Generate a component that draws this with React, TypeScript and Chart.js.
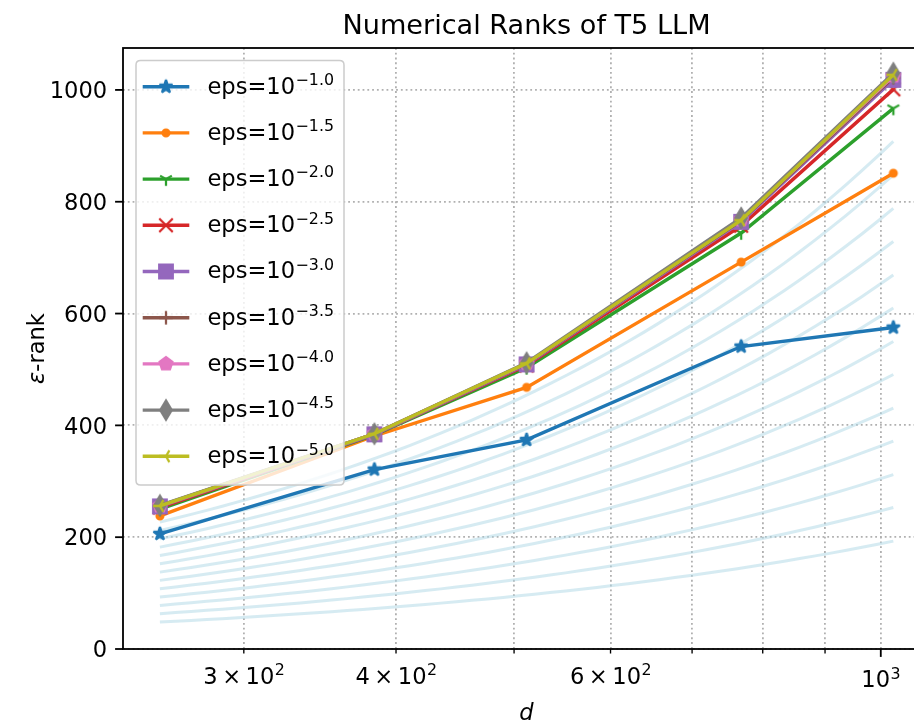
import React, { useEffect, useRef } from "react";
import { Chart, registerables } from "chart.js";

Chart.register(...registerables);

// Hidden dimension d and measured ε-rank for each tolerance
const dims = [256, 384, 512, 768, 1024];
const epsExponents = ["1.0", "1.5", "2.0", "2.5", "3.0", "3.5", "4.0", "4.5", "5.0"];
const rankEps1_0 = [206, 321, 374, 541, 575];
const rankEps1_5 = [238, 381, 468, 692, 851];
const rankEps2_0 = [250, 383, 503, 744, 967];
const rankEps2_5 = [253, 384, 507, 757, 1001];
const rankEps3_0 = [255, 384, 509, 764, 1018];
const rankEps3_5 = [256, 385, 510, 766, 1022];
const rankEps4_0 = [256, 385, 511, 768, 1025];
const rankEps4_5 = [257, 385, 512, 771, 1030];
const rankEps5_0 = [256, 385, 511, 767, 1027];
const rankSeries = [rankEps1_0, rankEps1_5, rankEps2_0, rankEps2_5, rankEps3_0, rankEps3_5, rankEps4_0, rankEps4_5, rankEps5_0];

const seriesColors = ["#1f77b4", "#ff7f0e", "#2ca02c", "#d62728", "#9467bd", "#8c564b", "#e377c2", "#7f7f7f", "#bcbd22"];
const markerKinds = ["star", "point", "tri_down", "x", "square", "plus", "pentagon", "thin_diamond", "tri_left"];

// Background reference lines rank = slope * d, each given by its rank at d = 1024
const guideAt1024 = [193, 253, 312, 372, 431, 491, 550, 610, 669, 729, 788, 848, 908];
const guideSamples = 48;

// Axis ticks
const yTickValues = [0, 200, 400, 600, 800, 1000];
const xGridValues = [300, 400, 500, 600, 700, 800, 900, 1000];
const xMajorValues = [1000];
const xLabelValues = [300, 400, 600, 1000];
const xLabelMantissa = ["3", "4", "6", ""];
const xLabelExponent = ["2", "2", "2", "3"];

const titleText = "Numerical Ranks of T5 LLM";

// Layout (pixels)
const CANVAS_W = 940;
const CANVAS_H = 725;
const VIEW_W = 914;
const PAD_TOP = 48;
const PAD_RIGHT = 10;
const Y_AXIS_W = 123;
const X_AXIS_H = 76;
const X_MIN = 238.75;
const X_MAX = 1097.5;
const Y_MIN = 0;
const Y_MAX = 1075;

const PT = 2.26;
const FS = 10 * PT;
const FONT = '"DejaVu Sans", "Liberation Sans", sans-serif';

function makeMarker(kind: string, color: string): HTMLCanvasElement {
  const size = 32;
  const c = document.createElement("canvas");
  c.width = size;
  c.height = size;
  const g = c.getContext("2d")!;
  const cx = size / 2;
  const cy = size / 2;
  const r = (6 * PT) / 2;
  g.fillStyle = color;
  g.strokeStyle = color;
  g.lineWidth = 1 * PT;
  g.lineJoin = "miter";
  g.lineCap = "butt";
  const poly = (pts: number[][]) => {
    g.beginPath();
    pts.forEach(([px, py], i) => (i === 0 ? g.moveTo(cx + px, cy + py) : g.lineTo(cx + px, cy + py)));
    g.closePath();
    g.fill();
    g.stroke();
  };
  const arms = (pts: number[][]) => {
    g.beginPath();
    pts.forEach(([px, py]) => {
      g.moveTo(cx, cy);
      g.lineTo(cx + px, cy + py);
    });
    g.stroke();
  };
  switch (kind) {
    case "star": {
      const pts: number[][] = [];
      for (let i = 0; i < 10; i++) {
        const a = -Math.PI / 2 + (i * Math.PI) / 5;
        const rr = i % 2 === 0 ? r : r * 0.381966;
        pts.push([rr * Math.cos(a), rr * Math.sin(a)]);
      }
      g.lineJoin = "bevel";
      poly(pts);
      break;
    }
    case "point": {
      g.beginPath();
      g.arc(cx, cy, r * 0.5, 0, Math.PI * 2);
      g.fill();
      g.stroke();
      break;
    }
    case "tri_down":
      arms([[0, r], [-0.866 * r, -0.5 * r], [0.866 * r, -0.5 * r]]);
      break;
    case "tri_left":
      arms([[-r, 0], [0.5 * r, -0.866 * r], [0.5 * r, 0.866 * r]]);
      break;
    case "x": {
      g.beginPath();
      g.moveTo(cx - r, cy - r);
      g.lineTo(cx + r, cy + r);
      g.moveTo(cx - r, cy + r);
      g.lineTo(cx + r, cy - r);
      g.stroke();
      break;
    }
    case "plus": {
      g.beginPath();
      g.moveTo(cx - r, cy);
      g.lineTo(cx + r, cy);
      g.moveTo(cx, cy - r);
      g.lineTo(cx, cy + r);
      g.stroke();
      break;
    }
    case "square":
      poly([[-r, -r], [r, -r], [r, r], [-r, r]]);
      break;
    case "pentagon": {
      const pts: number[][] = [];
      for (let i = 0; i < 5; i++) {
        const a = -Math.PI / 2 + (i * 2 * Math.PI) / 5;
        pts.push([r * Math.cos(a), r * Math.sin(a)]);
      }
      poly(pts);
      break;
    }
    case "thin_diamond": {
      const h = r * Math.SQRT2;
      const w = h * 0.6;
      poly([[0, -h], [w, 0], [0, h], [-w, 0]]);
      break;
    }
  }
  return c;
}

function drawPower(
  ctx: CanvasRenderingContext2D,
  x: number,
  baseline: number,
  lead: string[],
  exponent: string,
  size: number,
  align: "left" | "center"
) {
  const supSize = size * 0.7;
  const gap = size * 0.2;
  ctx.font = `${size}px ${FONT}`;
  const widths = lead.map((t) => ctx.measureText(t).width);
  const leadW = widths.reduce((a, b) => a + b, 0) + gap * Math.max(0, lead.length - 1);
  ctx.font = `${supSize}px ${FONT}`;
  const supW = ctx.measureText(exponent).width;
  let cur = align === "center" ? x - (leadW + supW) / 2 : x;
  ctx.textAlign = "left";
  ctx.textBaseline = "alphabetic";
  ctx.font = `${size}px ${FONT}`;
  lead.forEach((t, i) => {
    ctx.fillText(t, cur, baseline);
    cur += widths[i] + (i < lead.length - 1 ? gap : 0);
  });
  ctx.font = `${supSize}px ${FONT}`;
  ctx.fillText(exponent, cur + 0.5, baseline - size * 0.38);
}

export default function App() {
  const canvasRef = useRef<HTMLCanvasElement | null>(null);

  useEffect(() => {
    const canvas = canvasRef.current;
    if (!canvas) return;

    const markers = markerKinds.map((k, i) => makeMarker(k, seriesColors[i]));

    const guideDatasets = guideAt1024.map((v) => {
      const pts = [];
      for (let j = 0; j < guideSamples; j++) {
        const d = dims[0] * Math.pow(dims[dims.length - 1] / dims[0], j / (guideSamples - 1));
        pts.push({ x: d, y: (v * d) / dims[dims.length - 1] });
      }
      return {
        label: "",
        data: pts,
        borderColor: "rgba(173, 216, 230, 0.5)",
        borderWidth: 3,
        pointRadius: 0,
        fill: false,
        tension: 0,
        order: 100,
      };
    });

    const seriesDatasets = rankSeries.map((vals, i) => ({
      label: `eps=10^-${epsExponents[i]}`,
      data: dims.map((d, j) => ({ x: d, y: vals[j] })),
      borderColor: seriesColors[i],
      backgroundColor: seriesColors[i],
      borderWidth: 1.5 * PT,
      pointStyle: markers[i],
      pointRadius: 6,
      fill: false,
      tension: 0,
      order: rankSeries.length - i,
    }));

    const decor = {
      id: "axesDecor",
      afterDraw(chart: any) {
        const ctx: CanvasRenderingContext2D = chart.ctx;
        const { left, right, top, bottom } = chart.chartArea;
        const xs = chart.scales.x;
        const ys = chart.scales.y;
        ctx.save();

        // frame
        ctx.strokeStyle = "#000";
        ctx.lineWidth = 0.8 * PT;
        ctx.strokeRect(left, top, right - left, bottom - top);

        // y ticks and labels
        ctx.fillStyle = "#000";
        for (const v of yTickValues) {
          const y = ys.getPixelForValue(v);
          ctx.beginPath();
          ctx.lineWidth = 0.8 * PT;
          ctx.moveTo(left - 3.5 * PT, y);
          ctx.lineTo(left, y);
          ctx.stroke();
          ctx.font = `${FS}px ${FONT}`;
          ctx.textAlign = "right";
          ctx.textBaseline = "alphabetic";
          ctx.fillText(String(v), left - 7 * PT, y + (0.729 * FS) / 2);
        }

        // x ticks
        for (const v of xGridValues) {
          const x = xs.getPixelForValue(v);
          const major = xMajorValues.includes(v);
          const len = major ? 3.5 * PT : 2 * PT;
          ctx.beginPath();
          ctx.lineWidth = major ? 0.8 * PT : 0.6 * PT;
          ctx.moveTo(x, bottom);
          ctx.lineTo(x, bottom + len);
          ctx.stroke();
        }
        xLabelValues.forEach((v, i) => {
          const x = xs.getPixelForValue(v);
          const major = xMajorValues.includes(v);
          const len = major ? 3.5 * PT : 2 * PT;
          const baseline = bottom + len + 3.5 * PT + FS;
          const lead = xLabelMantissa[i] ? [xLabelMantissa[i], "\u00d7", "10"] : ["10"];
          drawPower(ctx, x, baseline, lead, xLabelExponent[i], FS, "center");
        });

        // title
        ctx.font = `${12 * PT}px ${FONT}`;
        ctx.textAlign = "center";
        ctx.textBaseline = "alphabetic";
        ctx.fillText(titleText, (left + right) / 2, top - 6 * PT);

        // x axis label
        ctx.font = `italic ${FS}px ${FONT}`;
        ctx.fillText("d", (left + right) / 2, 720);

        // y axis label
        ctx.save();
        ctx.translate(44, (top + bottom) / 2);
        ctx.rotate(-Math.PI / 2);
        ctx.font = `italic ${FS}px ${FONT}`;
        const wEps = ctx.measureText("\u03b5").width;
        ctx.font = `${FS}px ${FONT}`;
        const wRest = ctx.measureText("-rank").width;
        ctx.textAlign = "left";
        const sx = -(wEps + wRest) / 2;
        ctx.font = `italic ${FS}px ${FONT}`;
        ctx.fillText("\u03b5", sx, 0);
        ctx.font = `${FS}px ${FONT}`;
        ctx.fillText("-rank", sx + wEps, 0);
        ctx.restore();

        // legend
        const bx = left + 13;
        const by = top + 12.5;
        const bw = 208;
        const bh = 424.5;
        const rad = 0.2 * FS;
        ctx.beginPath();
        ctx.moveTo(bx + rad, by);
        ctx.lineTo(bx + bw - rad, by);
        ctx.quadraticCurveTo(bx + bw, by, bx + bw, by + rad);
        ctx.lineTo(bx + bw, by + bh - rad);
        ctx.quadraticCurveTo(bx + bw, by + bh, bx + bw - rad, by + bh);
        ctx.lineTo(bx + rad, by + bh);
        ctx.quadraticCurveTo(bx, by + bh, bx, by + bh - rad);
        ctx.lineTo(bx, by + rad);
        ctx.quadraticCurveTo(bx, by, bx + rad, by);
        ctx.closePath();
        ctx.fillStyle = "rgba(255,255,255,0.8)";
        ctx.fill();
        ctx.strokeStyle = "#cccccc";
        ctx.lineWidth = 1.5;
        ctx.stroke();

        epsExponents.forEach((ex, i) => {
          const cy = by + 26.2 + 46.2 * i;
          const hx0 = bx + 6.7;
          const hx1 = bx + 53.3;
          ctx.beginPath();
          ctx.strokeStyle = seriesColors[i];
          ctx.lineWidth = 1.5 * PT;
          ctx.moveTo(hx0, cy);
          ctx.lineTo(hx1, cy);
          ctx.stroke();
          const m = markers[i];
          ctx.drawImage(m, (hx0 + hx1) / 2 - m.width / 2, cy - m.height / 2);
          ctx.fillStyle = "#000";
          drawPower(ctx, bx + 71.4, cy + 6.8, ["eps=10"], "\u2212" + ex, FS, "left");
        });

        ctx.restore();
      },
    };

    const chart = new Chart(canvas, {
      type: "line",
      data: { datasets: [...seriesDatasets, ...guideDatasets] as any },
      options: {
        animation: false,
        responsive: false,
        devicePixelRatio: 1,
        events: [],
        layout: { padding: { top: PAD_TOP, right: PAD_RIGHT, left: 0, bottom: 0 } },
        plugins: {
          legend: { display: false },
          tooltip: { enabled: false },
          title: { display: false },
        },
        scales: {
          x: {
            type: "logarithmic",
            min: X_MIN,
            max: X_MAX,
            bounds: "data",
            ticks: { display: false },
            grid: { color: "#b0b0b0", lineWidth: 0.8 * PT, drawTicks: false },
            border: { display: false, dash: [0.8 * PT, 1.32 * PT] },
            afterBuildTicks: (s: any) => {
              s.ticks = xGridValues.map((value) => ({ value }));
            },
            afterFit: (s: any) => {
              s.height = X_AXIS_H;
            },
          },
          y: {
            type: "linear",
            min: Y_MIN,
            max: Y_MAX,
            bounds: "data",
            ticks: { display: false },
            grid: { color: "#b0b0b0", lineWidth: 0.8 * PT, drawTicks: false },
            border: { display: false, dash: [0.8 * PT, 1.32 * PT] },
            afterBuildTicks: (s: any) => {
              s.ticks = yTickValues.map((value) => ({ value }));
            },
            afterFit: (s: any) => {
              s.width = Y_AXIS_W;
            },
          },
        },
      } as any,
      plugins: [decor],
    });

    return () => chart.destroy();
  }, []);

  return (
    <div
      style={{
        position: "absolute",
        left: 0,
        top: 0,
        width: VIEW_W,
        height: CANVAS_H,
        overflow: "hidden",
        background: "#ffffff",
      }}
    >
      <canvas
        ref={canvasRef}
        width={CANVAS_W}
        height={CANVAS_H}
        style={{ display: "block", width: CANVAS_W, height: CANVAS_H }}
      />
    </div>
  );
}
